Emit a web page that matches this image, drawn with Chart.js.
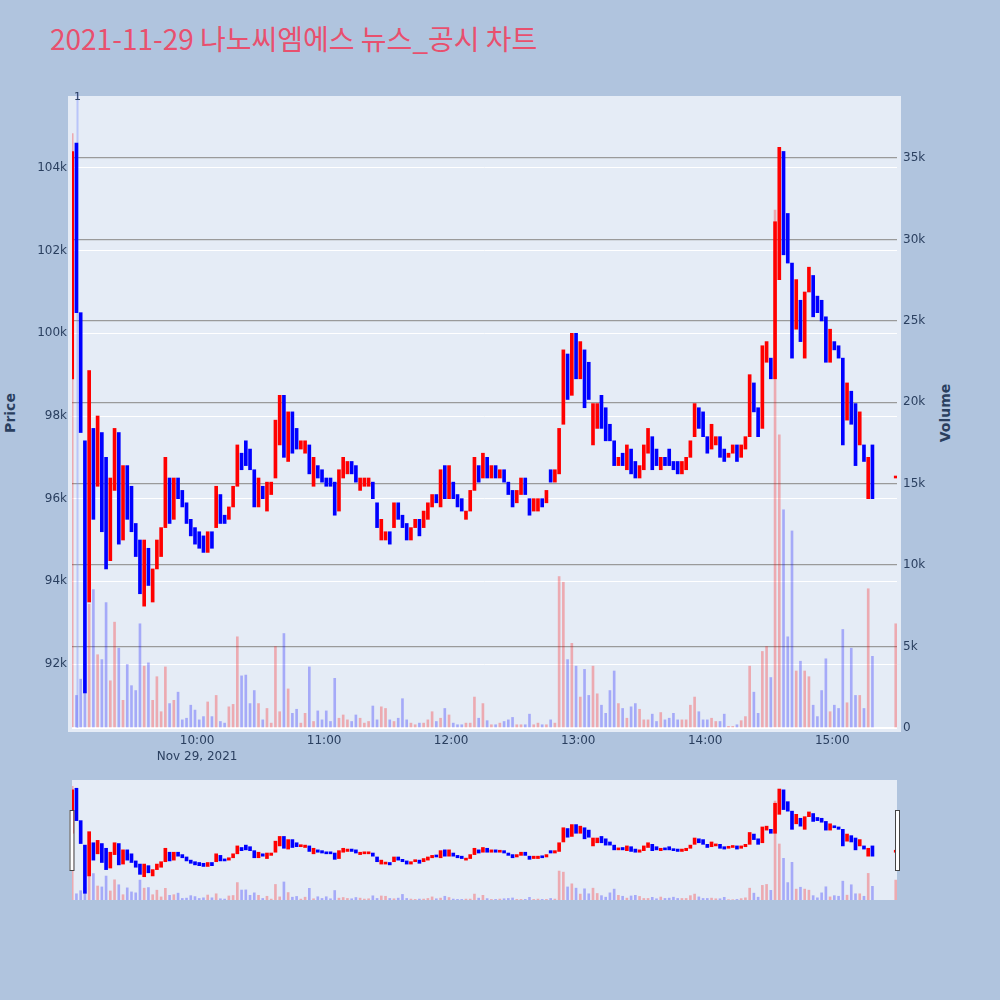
<!DOCTYPE html>
<html>
<head>
<meta charset="utf-8">
<script src="https://cdn.jsdelivr.net/npm/chart.js@4.4.1/dist/chart.umd.min.js"></script>
<style>
  html, body { margin: 0; padding: 0; background: #b0c4de; }
  body { width: 1000px; height: 1000px; position: relative; overflow: hidden; }
  #title { position: absolute; left: 50px; top: 21px; line-height: 34px; font-size: 28px;
           font-family: "Noto Sans CJK KR", "Noto Sans", sans-serif; color: #e8506e; white-space: nowrap; }
  .axt { position: absolute; font: bold 14px "DejaVu Sans", sans-serif; color: #2a3f5f; line-height: 16px;
         white-space: nowrap; transform: translate(-50%, -50%) rotate(-90deg); }
  #main { position: absolute; left: 0; top: 0; }
  #slider { position: absolute; left: 60px; top: 775px; }
</style>
</head>
<body>
<div id="title">2021-11-29 나노씨엠에스 뉴스_공시 차트</div>
<div class="axt" style="left:10px; top:413px;">Price</div>
<div class="axt" style="left:945px; top:413px;">Volume</div>
<canvas id="main" width="1000" height="780"></canvas>
<canvas id="slider" width="850" height="130"></canvas>
<script>
// 2-minute candles, 09:01 .. 15:19, plus the closing auction at 15:30
let times = [
  "09:01","09:03","09:05","09:07","09:09","09:11","09:13","09:15","09:17","09:19",
  "09:21","09:23","09:25","09:27","09:29","09:31","09:33","09:35","09:37","09:39",
  "09:41","09:43","09:45","09:47","09:49","09:51","09:53","09:55","09:57","09:59",
  "10:01","10:03","10:05","10:07","10:09","10:11","10:13","10:15","10:17","10:19",
  "10:21","10:23","10:25","10:27","10:29","10:31","10:33","10:35","10:37","10:39",
  "10:41","10:43","10:45","10:47","10:49","10:51","10:53","10:55","10:57","10:59",
  "11:01","11:03","11:05","11:07","11:09","11:11","11:13","11:15","11:17","11:19",
  "11:21","11:23","11:25","11:27","11:29","11:31","11:33","11:35","11:37","11:39",
  "11:41","11:43","11:45","11:47","11:49","11:51","11:53","11:55","11:57","11:59",
  "12:01","12:03","12:05","12:07","12:09","12:11","12:13","12:15","12:17","12:19",
  "12:21","12:23","12:25","12:27","12:29","12:31","12:33","12:35","12:37","12:39",
  "12:41","12:43","12:45","12:47","12:49","12:51","12:53","12:55","12:57","12:59",
  "13:01","13:03","13:05","13:07","13:09","13:11","13:13","13:15","13:17","13:19",
  "13:21","13:23","13:25","13:27","13:29","13:31","13:33","13:35","13:37","13:39",
  "13:41","13:43","13:45","13:47","13:49","13:51","13:53","13:55","13:57","13:59",
  "14:01","14:03","14:05","14:07","14:09","14:11","14:13","14:15","14:17","14:19",
  "14:21","14:23","14:25","14:27","14:29","14:31","14:33","14:35","14:37","14:39",
  "14:41","14:43","14:45","14:47","14:49","14:51","14:53","14:55","14:57","14:59",
  "15:01","15:03","15:05","15:07","15:09","15:11","15:13","15:15","15:17","15:19",
  "15:30"
];

let opens = [
  98900,104600,100500,97400,93500,97700,96300,97600,97000,94500,
  96200,97600,95000,96800,96300,95400,95000,93400,94800,93500,
  94300,94600,95300,96500,95500,96500,96200,95900,95500,95300,
  95200,95100,94700,95200,95300,96100,95600,95500,95800,96300,
  97100,97400,97200,96700,95800,96300,95700,96100,96500,97300,
  98500,96900,98100,97700,97200,97100,97300,96300,96800,96700,
  96500,96500,96400,95700,96500,96600,96900,96800,96200,96300,
  96300,96400,95900,95000,95000,95200,95300,95900,95600,95400,
  95000,95300,95500,95300,95500,95800,96100,95800,96800,96000,
  96400,96100,96000,95500,95700,96200,96800,96500,97000,96500,
  96800,96500,96700,96400,96200,95900,96100,96500,96000,95700,
  95700,96000,95900,96700,96400,96600,97800,99500,98500,100000,
  98900,99600,99300,97300,97700,98500,98200,97800,97400,96800,
  97100,96700,97200,96900,96500,96700,97100,97500,97200,96700,
  97000,97200,96900,96900,96600,96700,97000,97500,98200,98100,
  97500,97200,97300,97500,97200,97000,97100,97300,97000,97200,
  97500,98800,98200,97700,99300,99400,98900,101300,104400,102900,
  101700,100100,100800,99400,101000,101400,100900,100800,100400,99300,
  99800,99700,99400,97900,98600,98300,97300,97300,96000,97300,
  96500
];

let closes = [
  104400,100500,97600,91300,99100,95500,98000,95200,94300,96500,
  97700,94900,96800,95500,95200,94600,93700,95000,93900,94300,
  95000,95300,97000,95400,96500,96000,95800,95400,95100,94900,
  94800,94700,95200,94800,96300,95400,95400,95800,96300,97300,
  96700,96800,96700,95800,96500,96000,96400,96400,97900,98500,
  97000,98100,97100,97200,97400,97400,96600,97000,96500,96400,
  96300,96300,95600,96700,97000,96900,96600,96400,96500,96500,
  96500,96000,95300,95500,95200,94900,95900,95500,95300,95000,
  95300,95500,95100,95700,95900,96100,95900,96700,96000,96800,
  96000,95800,95700,95700,96200,97000,96400,97100,96500,96800,
  96500,96700,96400,96100,95800,96200,96500,96100,95600,96000,
  96000,95800,96200,96400,96700,97700,99600,98400,100000,98900,
  99800,98200,98400,98300,98300,97700,97400,97400,96800,97000,
  96800,97300,96600,96500,96800,97300,97700,96700,96800,97000,
  96800,96800,96700,96600,96900,97000,97400,98300,97700,97500,
  97100,97800,97500,97000,96900,97100,97300,96900,97300,97500,
  99000,98100,97500,99700,99800,98900,102700,104500,101900,101700,
  99400,101300,99800,101000,101600,100400,100500,100300,99300,100100,
  99600,99400,97300,98800,97800,96800,98100,96900,97000,96000,
  96500
];

let volumes = [
  36500,2000,3000,4000,7600,8500,4500,4200,7700,2900,
  6500,4900,1700,3900,2600,2300,6400,3800,4000,1700,
  3150,1000,3750,1500,1700,2200,500,600,1400,1100,
  500,700,1600,700,2000,400,300,1300,1450,5600,
  3200,3250,1500,2300,1500,500,1200,300,5000,1000,
  5800,2400,900,1150,300,900,3750,400,1050,500,
  1050,400,3050,600,800,500,400,800,600,300,
  400,1350,500,1300,1200,500,400,600,1800,500,
  300,200,300,300,500,1000,400,600,1200,800,
  300,200,200,300,300,1900,600,1500,450,200,
  200,300,400,500,650,200,200,200,850,200,
  300,200,200,500,300,9300,8950,4200,5200,3800,
  1900,3600,2000,3800,2100,1400,900,2300,3500,1500,
  1200,600,1300,1500,1150,500,500,850,400,950,
  500,600,900,500,500,500,1400,1900,1000,500,
  500,600,400,400,850,100,100,200,450,700,
  3800,2200,900,4700,5000,3100,31800,18000,13400,5600,
  12100,3500,4100,3500,3150,1400,700,2300,4250,1000,
  1400,1200,6050,1550,4900,2000,2000,1200,8550,4400,
  6400
];

let hourTicks = ["10:00","11:00","12:00","13:00","14:00","15:00"];
let dateLabel = "Nov 29, 2021";
let priceTicks = [92000,94000,96000,98000,100000,102000,104000];
let volumeTicks = [0,5000,10000,15000,20000,25000,30000,35000];
let newsTimes = ["09:03:30"];
let newsLabels = ["1"];

function toMin(s) {
    let p = s.split(":").map(Number);
    return (p[0] - 9) * 60 + p[1] + (p[2] || 0) / 60;
}

let UP = "#ff0000", DOWN = "#0000ff";
let isUp = i => closes[i] >= opens[i];

function makeDatasets() {
    return [
        {
            type: "bar",
            yAxisID: "price",
            grouped: false,
            order: 0,
            data: times.map((t, i) => ({ x: toMin(t), y: [opens[i], closes[i]] })),
            backgroundColor: c => isUp(c.dataIndex) ? UP : DOWN,
            barThickness: 3,
            minBarLength: 2,
            borderWidth: 0
        },
        {
            type: "bar",
            yAxisID: "volume",
            grouped: false,
            order: 1,
            data: times.map((t, i) => ({ x: toMin(t), y: volumes[i] })),
            backgroundColor: c => isUp(c.dataIndex) ? "rgba(255,0,0,0.28)" : "rgba(0,0,255,0.28)",
            barThickness: 2,
            borderWidth: 0
        }
    ];
}

let xRange = { min: 0.9, max: 390.6 };
let priceRange = { min: 90452, max: 105645 };
let volumeRange = { min: 0, max: 38560 };
let tickFont = { family: "DejaVu Sans", size: 12, lineHeight: 1.333 };
let tickColor = "#2a3f5f";

const plotBg = {
    id: "plotBg",
    beforeDraw(chart, args, opts) {
        let { ctx, chartArea: a } = chart;
        let pad = opts.pad || 0;
        ctx.save();
        ctx.fillStyle = "#e5ecf6";
        ctx.fillRect(a.left - pad, a.top - pad, a.right - a.left + 2 * pad, a.bottom - a.top + 2 * pad);
        ctx.restore();
    }
};

const newsMarks = {
    id: "newsMarks",
    beforeDatasetsDraw(chart) {
        let { ctx, chartArea: a, scales } = chart;
        newsTimes.forEach((t, k) => {
            let px = scales.x.getPixelForValue(toMin(t));
            ctx.save();
            ctx.strokeStyle = "rgba(120,140,255,0.4)";
            ctx.lineWidth = 2;
            ctx.beginPath();
            ctx.moveTo(px, a.top - 8);
            ctx.lineTo(px, a.bottom);
            ctx.stroke();
            ctx.fillStyle = "#2a3f5f";
            ctx.font = '11px "DejaVu Sans"';
            ctx.textAlign = "center";
            ctx.textBaseline = "middle";
            ctx.fillText(newsLabels[k], px, a.top - 3);
            ctx.restore();
        });
    }
};

const sliderHandles = {
    id: "sliderHandles",
    afterDraw(chart) {
        let { ctx, chartArea: a } = chart;
        ctx.save();
        ctx.fillStyle = "#ffffff";
        ctx.strokeStyle = "#444444";
        ctx.lineWidth = 1;
        [a.left - 2.5, a.right - 2].forEach(x0 => {
            ctx.fillRect(x0, a.top + 30, 4, 60);
            ctx.strokeRect(x0 + 0.5, a.top + 30.5, 4, 60);
        });
        ctx.restore();
    }
};

new Chart(document.getElementById("main"), {
    data: { datasets: makeDatasets() },
    options: {
        responsive: false,
        animation: false,
        events: [],
        layout: { padding: { top: 100, left: 0, right: 0, bottom: 0 } },
        plugins: { legend: { display: false }, tooltip: { enabled: false }, plotBg: { pad: 4 } },
        scales: {
            x: {
                type: "linear",
                min: xRange.min, max: xRange.max,
                offset: false,
                grid: { display: false, drawTicks: false },
                border: { display: false },
                afterFit: s => { s.height = 52; },
                afterBuildTicks: s => { s.ticks = hourTicks.map(h => ({ value: toMin(h) })); },
                ticks: {
                    autoSkip: false, maxRotation: 0, padding: 5,
                    color: tickColor, font: tickFont,
                    callback: (v, i) => i === 0 ? [hourTicks[0], dateLabel] : hourTicks[i]
                }
            },
            price: {
                type: "linear",
                position: "left",
                min: priceRange.min, max: priceRange.max,
                grid: { color: "#ffffff", lineWidth: 1, drawTicks: false },
                border: { display: false },
                afterFit: s => { s.width = 72; },
                afterBuildTicks: s => { s.ticks = priceTicks.map(v => ({ value: v })); },
                ticks: { padding: 5, color: tickColor, font: tickFont, callback: v => (v / 1000) + "k" }
            },
            volume: {
                type: "linear",
                position: "right",
                min: volumeRange.min, max: volumeRange.max,
                grid: {
                    color: c => c.tick && c.tick.value === 0 ? "#ffffff" : "#9a9a9a",
                    lineWidth: c => c.tick && c.tick.value === 0 ? 2 : 1.3,
                    drawTicks: false
                },
                border: { display: false },
                afterFit: s => { s.width = 103; },
                afterBuildTicks: s => { s.ticks = volumeTicks.map(v => ({ value: v })); },
                ticks: { padding: 6, color: tickColor, font: tickFont, callback: v => v === 0 ? "0" : (v / 1000) + "k" }
            }
        }
    },
    plugins: [plotBg, newsMarks]
});

new Chart(document.getElementById("slider"), {
    data: { datasets: makeDatasets() },
    options: {
        responsive: false,
        animation: false,
        events: [],
        layout: { padding: { top: 5, left: 12, right: 13, bottom: 5 } },
        plugins: { legend: { display: false }, tooltip: { enabled: false }, plotBg: { pad: 0 } },
        scales: {
            x: { type: "linear", display: false, min: xRange.min, max: xRange.max, offset: false },
            price: { type: "linear", display: false, min: priceRange.min, max: priceRange.max },
            volume: { type: "linear", display: false, min: volumeRange.min, max: volumeRange.max }
        }
    },
    plugins: [plotBg, sliderHandles]
});
</script>
</body>
</html>
